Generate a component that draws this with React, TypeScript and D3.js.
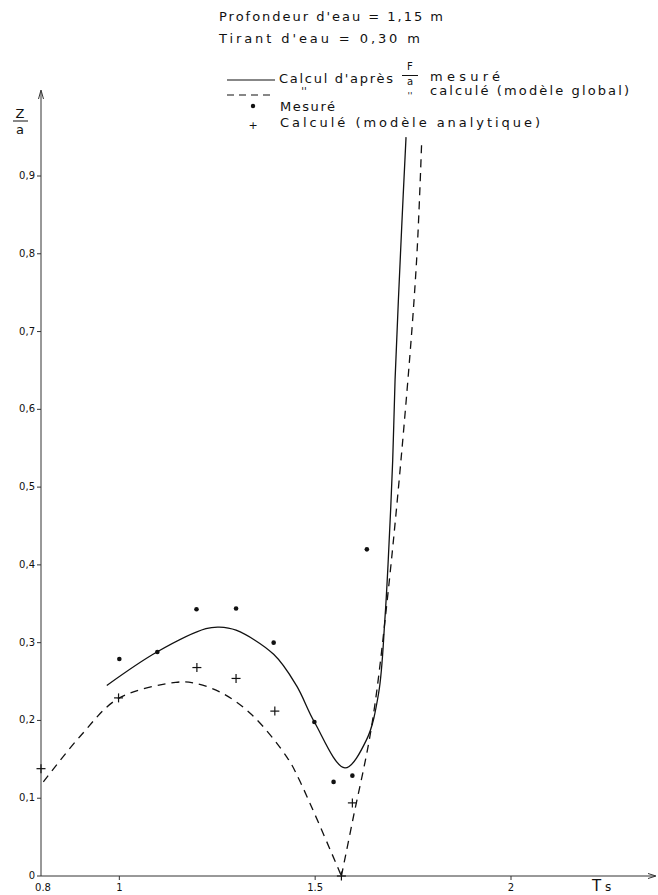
import React from "react";
import * as d3 from "d3";

// tick values
const xTicks = [0.8, 1, 1.5, 2];
const xTickLabels = ["0.8", "1", "1.5", "2"];
const yTicks = [0, 0.1, 0.2, 0.3, 0.4, 0.5, 0.6, 0.7, 0.8, 0.9];
const yTickLabels = ["0", "0,1", "0,2", "0,3", "0,4", "0,5", "0,6", "0,7", "0,8", "0,9"];

// solid curve: calcul d'après F/a mesuré  [T, Z/a]
const solidT = [0.968, 1.096, 1.221, 1.255, 1.298, 1.394, 1.452, 1.498, 1.576, 1.631, 1.662, 1.678, 1.686, 1.698, 1.704, 1.721, 1.732];
const solidZ = [0.245, 0.288, 0.318, 0.32, 0.316, 0.285, 0.245, 0.198, 0.139, 0.175, 0.235, 0.33, 0.4, 0.535, 0.638, 0.835, 0.95];

// dashed curve: calculé (modèle global) — left branch down to the cusp, then right branch
const dashLeftT = [0.806, 0.904, 0.997, 1.144, 1.191, 1.263, 1.339, 1.429, 1.46, 1.567];
const dashLeftZ = [0.121, 0.182, 0.228, 0.249, 0.248, 0.235, 0.207, 0.152, 0.123, 0.0];
const dashRightT = [1.567, 1.596, 1.644, 1.686, 1.734, 1.759, 1.772];
const dashRightZ = [0.0, 0.072, 0.192, 0.364, 0.621, 0.792, 0.945];

// measured points (dots)
const mesT = [1.0, 1.097, 1.197, 1.298, 1.394, 1.498, 1.547, 1.595, 1.632];
const mesZ = [0.279, 0.288, 0.343, 0.344, 0.3, 0.198, 0.121, 0.129, 0.42];

// analytical model points (crosses)
const anaT = [0.8, 0.998, 1.198, 1.298, 1.397, 1.567, 1.595];
const anaZ = [0.138, 0.229, 0.268, 0.254, 0.212, 0.0, 0.094];

const W = 658;
const H = 895;
const FONT = "'DejaVu Sans', sans-serif";

export default function App() {
  const x = d3.scaleLinear().domain([0.8, 2]).range([41, 511]);
  const y = d3.scaleLinear().domain([0, 0.9]).range([876, 176]);

  const line = d3
    .line<[number, number]>()
    .x((d) => x(d[0]))
    .y((d) => y(d[1]))
    .curve(d3.curveCatmullRom.alpha(0.5));

  const zip = (a: number[], b: number[]) => a.map((v, i) => [v, b[i]] as [number, number]);

  const x0 = x(0.8);
  const y0 = y(0);
  const axisColor = "#333";
  const ink = "#111";

  return (
    <div style={{ position: "absolute", left: 0, top: 0 }}>
      <svg width={W} height={H} style={{ display: "block", background: "#fff" }} fontFamily={FONT} fill={ink}>
        {/* header */}
        <text x={219} y={21} fontSize={13} textLength={224} lengthAdjust="spacing">
          Profondeur  d'eau  =  1,15  m
        </text>
        <text x={219} y={43} fontSize={13} textLength={201} lengthAdjust="spacing">
          Tirant  d'eau  =  0,30 m
        </text>

        {/* legend */}
        <line x1={227} x2={275} y1={80} y2={80} stroke={ink} strokeWidth={1.2} />
        <text x={279} y={83} fontSize={13} textLength={114} lengthAdjust="spacing">
          Calcul d'après
        </text>
        <text x={410} y={70} fontSize={10} textAnchor="middle">F</text>
        <line x1={402} x2={418} y1={75.5} y2={75.5} stroke={ink} strokeWidth={1} />
        <text x={410} y={85} fontSize={10} textAnchor="middle">a</text>
        <text x={430} y={81} fontSize={13} textLength={70} lengthAdjust="spacing">
          mesuré
        </text>

        <line x1={227} x2={275} y1={95} y2={95} stroke={ink} strokeWidth={1.2} strokeDasharray="7,5" />
        <text x={304} y={95} fontSize={10} textAnchor="middle">''</text>
        <text x={410} y={99} fontSize={9} textAnchor="middle">''</text>
        <text x={430} y={95} fontSize={13} textLength={199} lengthAdjust="spacing">
          calculé (modèle global)
        </text>

        <circle cx={253} cy={106} r={2.2} />
        <text x={280} y={111} fontSize={13} textLength={55} lengthAdjust="spacing">
          Mesuré
        </text>
        <text x={253} y={129} fontSize={11} textAnchor="middle">+</text>
        <text x={280} y={127} fontSize={13} textLength={260} lengthAdjust="spacing">
          Calculé (modèle analytique)
        </text>

        {/* y label Z/a */}
        <text x={20} y={118} fontSize={13} textAnchor="middle">Z</text>
        <line x1={13} x2={28} y1={121} y2={121} stroke={ink} strokeWidth={1} />
        <text x={20} y={134} fontSize={13} textAnchor="middle">a</text>

        {/* axes */}
        <line x1={x0} x2={x0} y1={y0} y2={92} stroke={axisColor} strokeWidth={1} />
        <path d={`M${x0 - 2.5},${99} L${x0},${90} L${x0 + 2.5},${99}`} fill="none" stroke={axisColor} strokeWidth={1} />
        <line x1={x0} x2={655} y1={y0} y2={y0} stroke={axisColor} strokeWidth={1} />
        <path d={`M${648},${y0 - 2.5} L${656},${y0} L${648},${y0 + 2.5}`} fill="none" stroke={axisColor} strokeWidth={1} />

        {yTicks.map((t, i) => (
          <g key={"yt" + i}>
            <line x1={x0 - 4} x2={x0} y1={y(t)} y2={y(t)} stroke={axisColor} strokeWidth={1} />
            <text x={x0 - 6} y={y(t) + 3} fontSize={10} textAnchor="end">
              {yTickLabels[i]}
            </text>
          </g>
        ))}
        {xTicks.map((t, i) => (
          <g key={"xt" + i}>
            {i > 0 && <line x1={x(t)} x2={x(t)} y1={y0} y2={y0 + 4} stroke={axisColor} strokeWidth={1} />}
            <text x={x(t) + (i === 0 ? 2 : 0)} y={y0 + 15} fontSize={10} textAnchor="middle">
              {xTickLabels[i]}
            </text>
          </g>
        ))}
        <text x={592} y={y0 + 15} fontSize={15}>
          T
        </text>
        <text x={605} y={y0 + 15} fontSize={12}>
          s
        </text>

        {/* curves */}
        <path d={line(zip(solidT, solidZ)) || ""} fill="none" stroke={ink} strokeWidth={1.3} />
        <path d={line(zip(dashLeftT, dashLeftZ)) || ""} fill="none" stroke={ink} strokeWidth={1.3} strokeDasharray="8,6" />
        <path d={line(zip(dashRightT, dashRightZ)) || ""} fill="none" stroke={ink} strokeWidth={1.3} strokeDasharray="8,6" />

        {/* points */}
        {mesT.map((t, i) => (
          <circle key={"m" + i} cx={x(t)} cy={y(mesZ[i])} r={2.3} />
        ))}
        {anaT.map((t, i) => {
          const cx = x(t);
          const cy = y(anaZ[i]);
          return (
            <g key={"a" + i} stroke={ink} strokeWidth={1.2}>
              <line x1={cx - 4.5} x2={cx + 4.5} y1={cy} y2={cy} />
              <line x1={cx} x2={cx} y1={cy - 4.5} y2={cy + 4.5} />
            </g>
          );
        })}
      </svg>
    </div>
  );
}
